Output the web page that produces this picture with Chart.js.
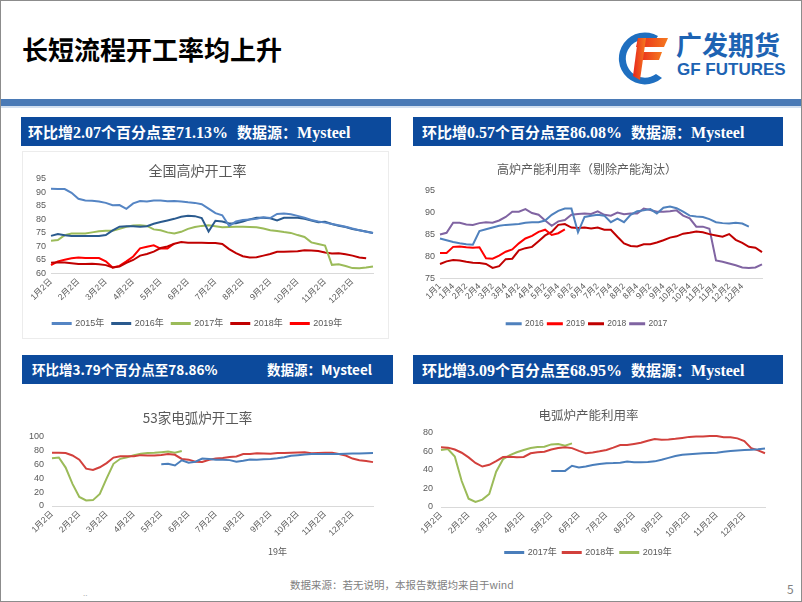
<!DOCTYPE html>
<html>
<head>
<meta charset="utf-8">
<script src="https://cdn.jsdelivr.net/npm/chart.js@4.4.1/dist/chart.umd.min.js"></script>
<style>
  body { margin: 0; background: #fff; }
  #page { position: relative; width: 802px; height: 602px; overflow: hidden; background: #fff; font-family: 'Noto Sans CJK SC', sans-serif; }
  #frame { position: absolute; left: 0; top: 0; width: 802px; height: 602px; box-sizing: border-box; border: 1px solid #8c8c8c; pointer-events: none; }
  .abs { position: absolute; white-space: nowrap; }
  .bar { position: absolute; height: 29px; line-height: 29px; background: #0c4a9c; color: #fff; font-weight: bold; white-space: nowrap; box-sizing: border-box; }
  .c { font-family: 'Noto Sans CJK SC', sans-serif; font-size: 15px; }
  .n { font-family: 'Liberation Serif', serif; font-size: 16px; }
  .s { font-family: 'Noto Sans CJK SC', sans-serif; font-size: 13.5px; }
  .box { position: absolute; }
</style>
</head>
<body>
<div id="page">
  <div class="abs" style="left:22px;top:31px;font-size:26px;font-weight:bold;color:#000;line-height:36px;">长短流程开工率均上升</div>

  <svg class="abs" style="left:618px;top:30px;" width="56" height="56" viewBox="0 0 56 56">
    <defs>
      <linearGradient id="rg" x1="0" y1="0" x2="1" y2="0">
        <stop offset="0" stop-color="#e8261c"/>
        <stop offset="1" stop-color="#f57a1f"/>
      </linearGradient>
    </defs>
    <path d="M40 6 A26 26 0 1 0 44 48 L38 44 A19 19 0 1 1 36 12 Z" fill="#1f6fc0"/>
    <path d="M20 8 L50 8 L46 17 L18 17 Z" fill="url(#rg)"/>
    <path d="M22 22 L44 22 L41 30 L20 30 Z" fill="url(#rg)"/>
    <path d="M20 8 L28 8 L22 50 L15 46 Z" fill="url(#rg)"/>
  </svg>
  <div class="abs" style="left:676px;top:27px;font-size:26px;font-weight:bold;color:#1d63b3;line-height:34px;">广发期货</div>
  <div class="abs" style="left:677px;top:60px;font-family:'Liberation Sans';font-size:17px;font-weight:bold;color:#1d63b3;line-height:20px;">GF FUTURES</div>

  <div class="abs" style="left:1px;top:99px;width:800px;height:7px;background:#4a7ab6;"></div>
  <div class="abs" style="left:1px;top:106px;width:800px;height:2px;background:#d3e0f0;"></div>

  <div class="bar" style="left:21px;top:117px;width:370px;padding-left:7px;">
    <span class="c">环比增</span><span class="n">2.07</span><span class="c">个百分点至</span><span class="n">71.13%</span><span class="c" style="margin-left:9px;">数据源：</span><span class="n">Mysteel</span>
  </div>
  <div class="bar" style="left:413px;top:117px;width:370px;padding-left:9px;">
    <span class="c">环比增</span><span class="n">0.57</span><span class="c">个百分点至</span><span class="n">86.08%</span><span class="c" style="margin-left:9px;">数据源：</span><span class="n">Mysteel</span>
  </div>
  <div class="bar" style="left:22px;top:355px;width:371px;">
    <span class="s abs" style="left:10px;">环比增3.79个百分点至78.86%</span>
    <span class="s abs" style="left:245px;">数据源：Mysteel</span>
  </div>
  <div class="bar" style="left:413px;top:355px;width:370px;padding-left:9px;">
    <span class="c">环比增</span><span class="n">3.09</span><span class="c">个百分点至</span><span class="n">68.95%</span><span class="c" style="margin-left:9px;">数据源：</span><span class="n">Mysteel</span>
  </div>

  <div class="box" style="left:22px;top:151px;width:365px;height:186px;border:1px solid #ececec;"></div>
  <div class="box" style="left:22px;top:150px;width:366px;height:188px;"><canvas id="c1"></canvas></div>
  <div class="box" style="left:412px;top:150px;width:375px;height:188px;"><canvas id="c2"></canvas></div>
  <div class="box" style="left:22px;top:395px;width:366px;height:170px;"><canvas id="c3"></canvas></div>
  <div class="box" style="left:412px;top:395px;width:375px;height:172px;"><canvas id="c4"></canvas></div>

  <div class="abs" style="left:268px;top:545px;font-size:9px;color:#595959;line-height:14px;">19年</div>

  <div class="abs" style="left:290px;top:577px;font-size:10.5px;color:#808080;line-height:16px;">数据来源：若无说明，本报告数据均来自于wind</div>
  <div class="abs" style="left:787px;top:581px;font-size:12px;color:#808080;line-height:16px;">5</div>
  <div class="abs" style="left:83px;top:588px;font-size:8px;color:#b0b0b0;line-height:10px;">..</div>

  <div id="frame"></div>
</div>

<script>
const FONT = "'Liberation Sans', 'Noto Sans CJK SC', sans-serif";

// tick labels
const monthTicks = ['1月2日', '2月2日', '3月2日', '4月2日', '5月2日', '6月2日',
  '7月2日', '8月2日', '9月2日', '10月2日', '11月2日', '12月2日'];
const weekTicks = ['1月1', '1月4', '2月2', '2月4', '3月2', '3月4', '4月2', '4月4',
  '5月2', '5月4', '6月2', '6月4', '7月2', '7月4', '8月2', '8月4',
  '9月2', '9月4', '10月2', '10月4', '11月2', '11月4', '12月2', '12月4'];

// 全国高炉开工率 (weekly)
const bf2015 = [91.3, 91.2, 91.2, 89.8, 87.6, 87, 86.9, 86.6, 86.1, 85.2, 85.3, 83.9, 85.9, 86.8, 86.6, 87, 87, 86.7, 86.8, 86.6,
  86.3, 86.1, 85.6, 84, 82.3, 81.5, 77.6, 79.2, 79.8, 80, 80.2, 80.8, 80.5, 82, 82.2, 81.9, 81.3, 80.6, 79.8, 79.2,
  78.8, 78.3, 77.8, 77.3, 76.6, 76, 75.4, 75];
const bf2016 = [73.9, 74.6, 74.1, 73.9, 73.9, 73.9, 73.9, 73.9, 74.2, 75.9, 77.3, 77.5, 77.5, 77.3, 77.5, 78.4, 79, 79.6, 80.2, 81,
  81.3, 81.2, 80.5, 75.5, 79.5, 79.2, 78.5, 78.6, 79.2, 80, 80.6, 80.6, 80.4, 79.6, 80.6, 80.6, 80.6, 80.2, 79.6, 78.9,
  79.1, 78.3, 77.6, 77.2, 76.4, 76, 75.5, 75];
const bf2017 = [72.1, 72.4, 74.2, 74.8, 74.8, 74.8, 75.2, 75.6, 75.8, 75.8, 76.5, 77.3, 77.7, 77.8, 77.6, 76.3, 76, 75.2, 74.8, 75.4,
  76.5, 77.2, 77.6, 77.8, 77.5, 77.1, 77.2, 77.3, 77.3, 77.2, 77.1, 76.6, 76, 75.7, 75.3, 75, 74.2, 73.5, 71.5, 70.9,
  70.3, 63.2, 63.4, 62.8, 62, 61.9, 62.2, 62.6];
const bf2018 = [64, 64.2, 64.1, 63.8, 63.5, 63.5, 63.6, 63.4, 63.1, 62.2, 62.6, 63.9, 65, 66.6, 67.2, 68.1, 69.4, 70, 71, 71.6,
  71.4, 71.4, 71.4, 71.3, 71.3, 70.9, 69, 67.5, 66.4, 65.9, 66, 66.6, 67.2, 68, 68, 68.1, 68.2, 68.6, 68.5, 68.3,
  67.8, 67.4, 67.5, 67.1, 66.6, 65.9, 65.6];
const bf2019 = [63.1, 64.5, 65.1, 65.6, 65.9, 65.7, 65.7, 65.7, 64.5, 62.2, 62.8, 64.5, 66.3, 69.3, 69.9, 70.4, 69.2, 69.2, 71.1];

// 高炉产能利用率（剔除产能淘汰）
const cu2016 = [84.1, 83.7, 83.3, 83.0, 82.8, 82.7, 85.8, 86.2, 86.6, 87.0, 87.2, 87.3, 87.4, 87.7, 87.8, 87.8, 88.2, 89.5, 90.4, 90.9,
  90.9, 85.5, 89, 89.3, 89.5, 89.3, 87.8, 88.6, 87.8, 89.5, 90.3, 90.5, 90.8, 89.8, 91.1, 91.4, 91, 90.2, 89.3, 89.1,
  89, 88.5, 87.8, 87.6, 87.5, 87.7, 87.5, 86.8];
const cu2019 = [80.8, 80.8, 82.2, 82.3, 82.1, 82, 82.1, 79.6, 79.5, 80.2, 81.1, 81.6, 83, 84.1, 84.7, 85.6, 86.1, 84.9, 85.3, 86.2];
const cu2018 = [78.3, 78.9, 79.2, 79.1, 78.8, 78.6, 78.5, 78.3, 77.4, 77.8, 79.4, 79.5, 81.4, 81.9, 82.2, 83.5, 84.8, 85.6, 87.2, 87.4,
  86.6, 86.5, 86.6, 86.4, 86.6, 86.1, 86.1, 84.5, 83, 82.4, 82.3, 82.8, 82.8, 83.2, 83.7, 84.3, 84.6, 85.2, 85.4, 85.7,
  85.5, 85.1, 84.8, 84.5, 85.1, 83.8, 83.1, 82.2, 82, 81];
const cu2017 = [85, 85.4, 87.7, 87.7, 87.3, 87.2, 87.6, 87.8, 87.7, 88.2, 89, 90.2, 90.2, 90.8, 89.9, 89.5, 88.2, 87, 88, 88.3,
  89.5, 89.7, 89.8, 89.7, 90.3, 89.5, 89.3, 90, 89.6, 89.8, 89.8, 90.9, 90.6, 90.2, 90.2, 90.3, 90.5, 89.3, 88.7, 86.8,
  86.8, 86.3, 79.1, 78.8, 78.4, 78, 77.5, 77.4, 77.5, 78.2];

// 53家电弧炉开工率
const eaf2018 = [77, 77, 76.5, 73, 67, 54, 52, 56, 62, 70, 72, 72, 71.8, 73.5, 72.8, 73, 73.8, 75, 74, 68,
  67, 64, 63.6, 66.8, 68.5, 69.5, 70.8, 71.5, 75, 75.2, 76.2, 75.8, 75.6, 76.5, 76.6, 77, 77.4, 77.5, 76.3, 76.6,
  76.9, 77, 75, 73, 68.5, 66.2, 65, 63.4];
const eaf2019 = [69, 70, 55.5, 32, 13, 8, 8.5, 17.5, 40, 61, 68.2, 70.5, 73.5, 75.6, 76.6, 76.8, 77.7, 78.7, 77, 79.5];
const eaf2017 = [null, null, null, null, null, null, null, null, null, null, null, null, null, null, null, null,
  60.5, 61, 58.5, 66, 62.5, 64, 68.5, 68, 67, 67, 66.3, 64, 65.5, 67.3, 67, 67.5, 68, 69, 70.5, 72.5,
  73.5, 74.5, 75, 75, 75, 75, 75.2, 75.5, 75.7, 76, 76.3, 76.6];

// 电弧炉产能利用率
const eu2017 = [null, null, null, null, null, null, null, null, null, null, null, null, null, null, null, null,
  38.9, 38.9, 38.9, 44.5, 42.6, 43.6, 45.2, 46.4, 47.2, 47.4, 47.8, 49, 48.2, 48.2, 48.4, 49.2, 51, 53, 55, 56.3,
  57, 57.5, 57.9, 58.2, 58.6, 59.5, 60.4, 61, 61.4, 61.8, 62.2, 63];
const eu2018 = [64.3, 64, 62, 58.5, 53.5, 47.5, 43.6, 45.5, 49.5, 53.8, 54.3, 53.6, 54, 57.9, 59, 59.6, 62, 63.5, 64.5, 63.5,
  60.5, 58, 58.8, 60, 61.5, 64, 66.8, 66.8, 68, 69.3, 71.5, 73.3, 72.6, 72.8, 73.5, 74.5, 75.6, 76, 76, 76.5,
  76.5, 75.2, 75.3, 74, 71, 63.5, 61, 58];
const eu2019 = [61.4, 62.5, 54.5, 28, 9, 5.4, 8, 14, 38, 51.5, 56, 59, 61.5, 63.7, 64.6, 65, 67.5, 67.8, 66, 68.6];

// category labels: 4 weeks per month tick, 2 weeks per tick for the capacity chart
const labels48 = [];
for (let i = 0; i < 48; i++) labels48.push(i % 4 === 0 ? monthTicks[i / 4] : '');
const labels50 = [];
for (let i = 0; i < 50; i++) labels50.push(i % 2 === 0 && i / 2 < weekTicks.length ? weekTicks[i / 2] : '');

function series(label, data, color) {
  return {
    label: label, data: data,
    borderColor: color, backgroundColor: color,
    borderWidth: 2, pointRadius: 0, tension: 0, fill: false
  };
}

function drawChart(id, labels, datasets, s) {
  new Chart(document.getElementById(id), {
    type: 'line',
    data: { labels: labels, datasets: datasets },
    options: {
      responsive: true,
      maintainAspectRatio: false,
      animation: false,
      layout: { padding: { left: 0, right: s.padRight, top: 0, bottom: 0 } },
      plugins: {
        title: {
          display: true, text: s.title, color: '#595959',
          font: { size: s.titleSize, family: "'Noto Sans CJK SC', sans-serif", weight: 'normal' },
          padding: { top: s.titleTop, bottom: s.titleBottom }
        },
        legend: {
          display: s.legend, position: 'bottom',
          labels: {
            boxWidth: s.boxWidth, boxHeight: 1, padding: s.legendPad,
            color: '#595959', font: { size: s.legendSize || 9, family: FONT }
          }
        },
        tooltip: { enabled: false }
      },
      scales: {
        x: {
          grid: { display: false, drawTicks: false },
          border: { display: true, color: '#d9d9d9' },
          ticks: {
            autoSkip: false, maxRotation: 45, minRotation: 45, padding: 3,
            color: '#595959', font: { size: 8.5, family: FONT }
          },
          afterFit: function (sc) { sc.height = s.xHeight; }
        },
        y: {
          min: s.min, max: s.max,
          grid: { display: false, drawTicks: false },
          border: { display: false },
          ticks: { stepSize: s.step, autoSkip: false, padding: s.yPad, color: '#595959', font: { size: 9, family: FONT } },
          afterFit: function (sc) { sc.width = s.yWidth; }
        }
      }
    }
  });
}

drawChart('c1', labels48, [
  series('2015年', bf2015, '#5585c4'),
  series('2016年', bf2016, '#2a5a8e'),
  series('2017年', bf2017, '#9bbb59'),
  series('2018年', bf2018, '#c00000'),
  series('2019年', bf2019, '#ff0000')
], { title: '全国高炉开工率', titleSize: 14, titleTop: 12, titleBottom: 0, legend: true, boxWidth: 18, legendPad: 8,
     padRight: 15, yWidth: 29, yPad: 5, xHeight: 37.5, min: 60, max: 95, step: 5 });

drawChart('c2', labels50, [
  series('2016', cu2016, '#4f81bd'),
  series('2019', cu2019, '#ff0000'),
  series('2018', cu2018, '#c00000'),
  series('2017', cu2017, '#8064a2')
], { title: '高炉产能利用率（剔除产能淘汰）', titleSize: 12, titleTop: 12.5, titleBottom: 13.7, legend: true, boxWidth: 14, legendPad: 4,
     legendSize: 8.5, padRight: 25, yWidth: 28, yPad: 5, xHeight: 37, min: 75, max: 95, step: 5 });

drawChart('c3', labels48, [
  series('2017年', eaf2017, '#4a7ebb'),
  series('2018年', eaf2018, '#d2403c'),
  series('2019年', eaf2019, '#9bbb59')
], { title: '53家电弧炉开工率', titleSize: 13.5, titleTop: 14.5, titleBottom: 11.1, legend: false, boxWidth: 18, legendPad: 10,
     padRight: 15, yWidth: 30, yPad: 8, xHeight: 59, min: 0, max: 100, step: 20 });

drawChart('c4', labels48, [
  series('2017年', eu2017, '#4a7ebb'),
  series('2018年', eu2018, '#d2403c'),
  series('2019年', eu2019, '#9bbb59')
], { title: '电弧炉产能利用率', titleSize: 12.5, titleTop: 13, titleBottom: 9.8, legend: true, boxWidth: 18, legendPad: 6,
     padRight: 22, yWidth: 29, yPad: 8, xHeight: 35, min: 0, max: 80, step: 20 });
</script>
</body>
</html>
